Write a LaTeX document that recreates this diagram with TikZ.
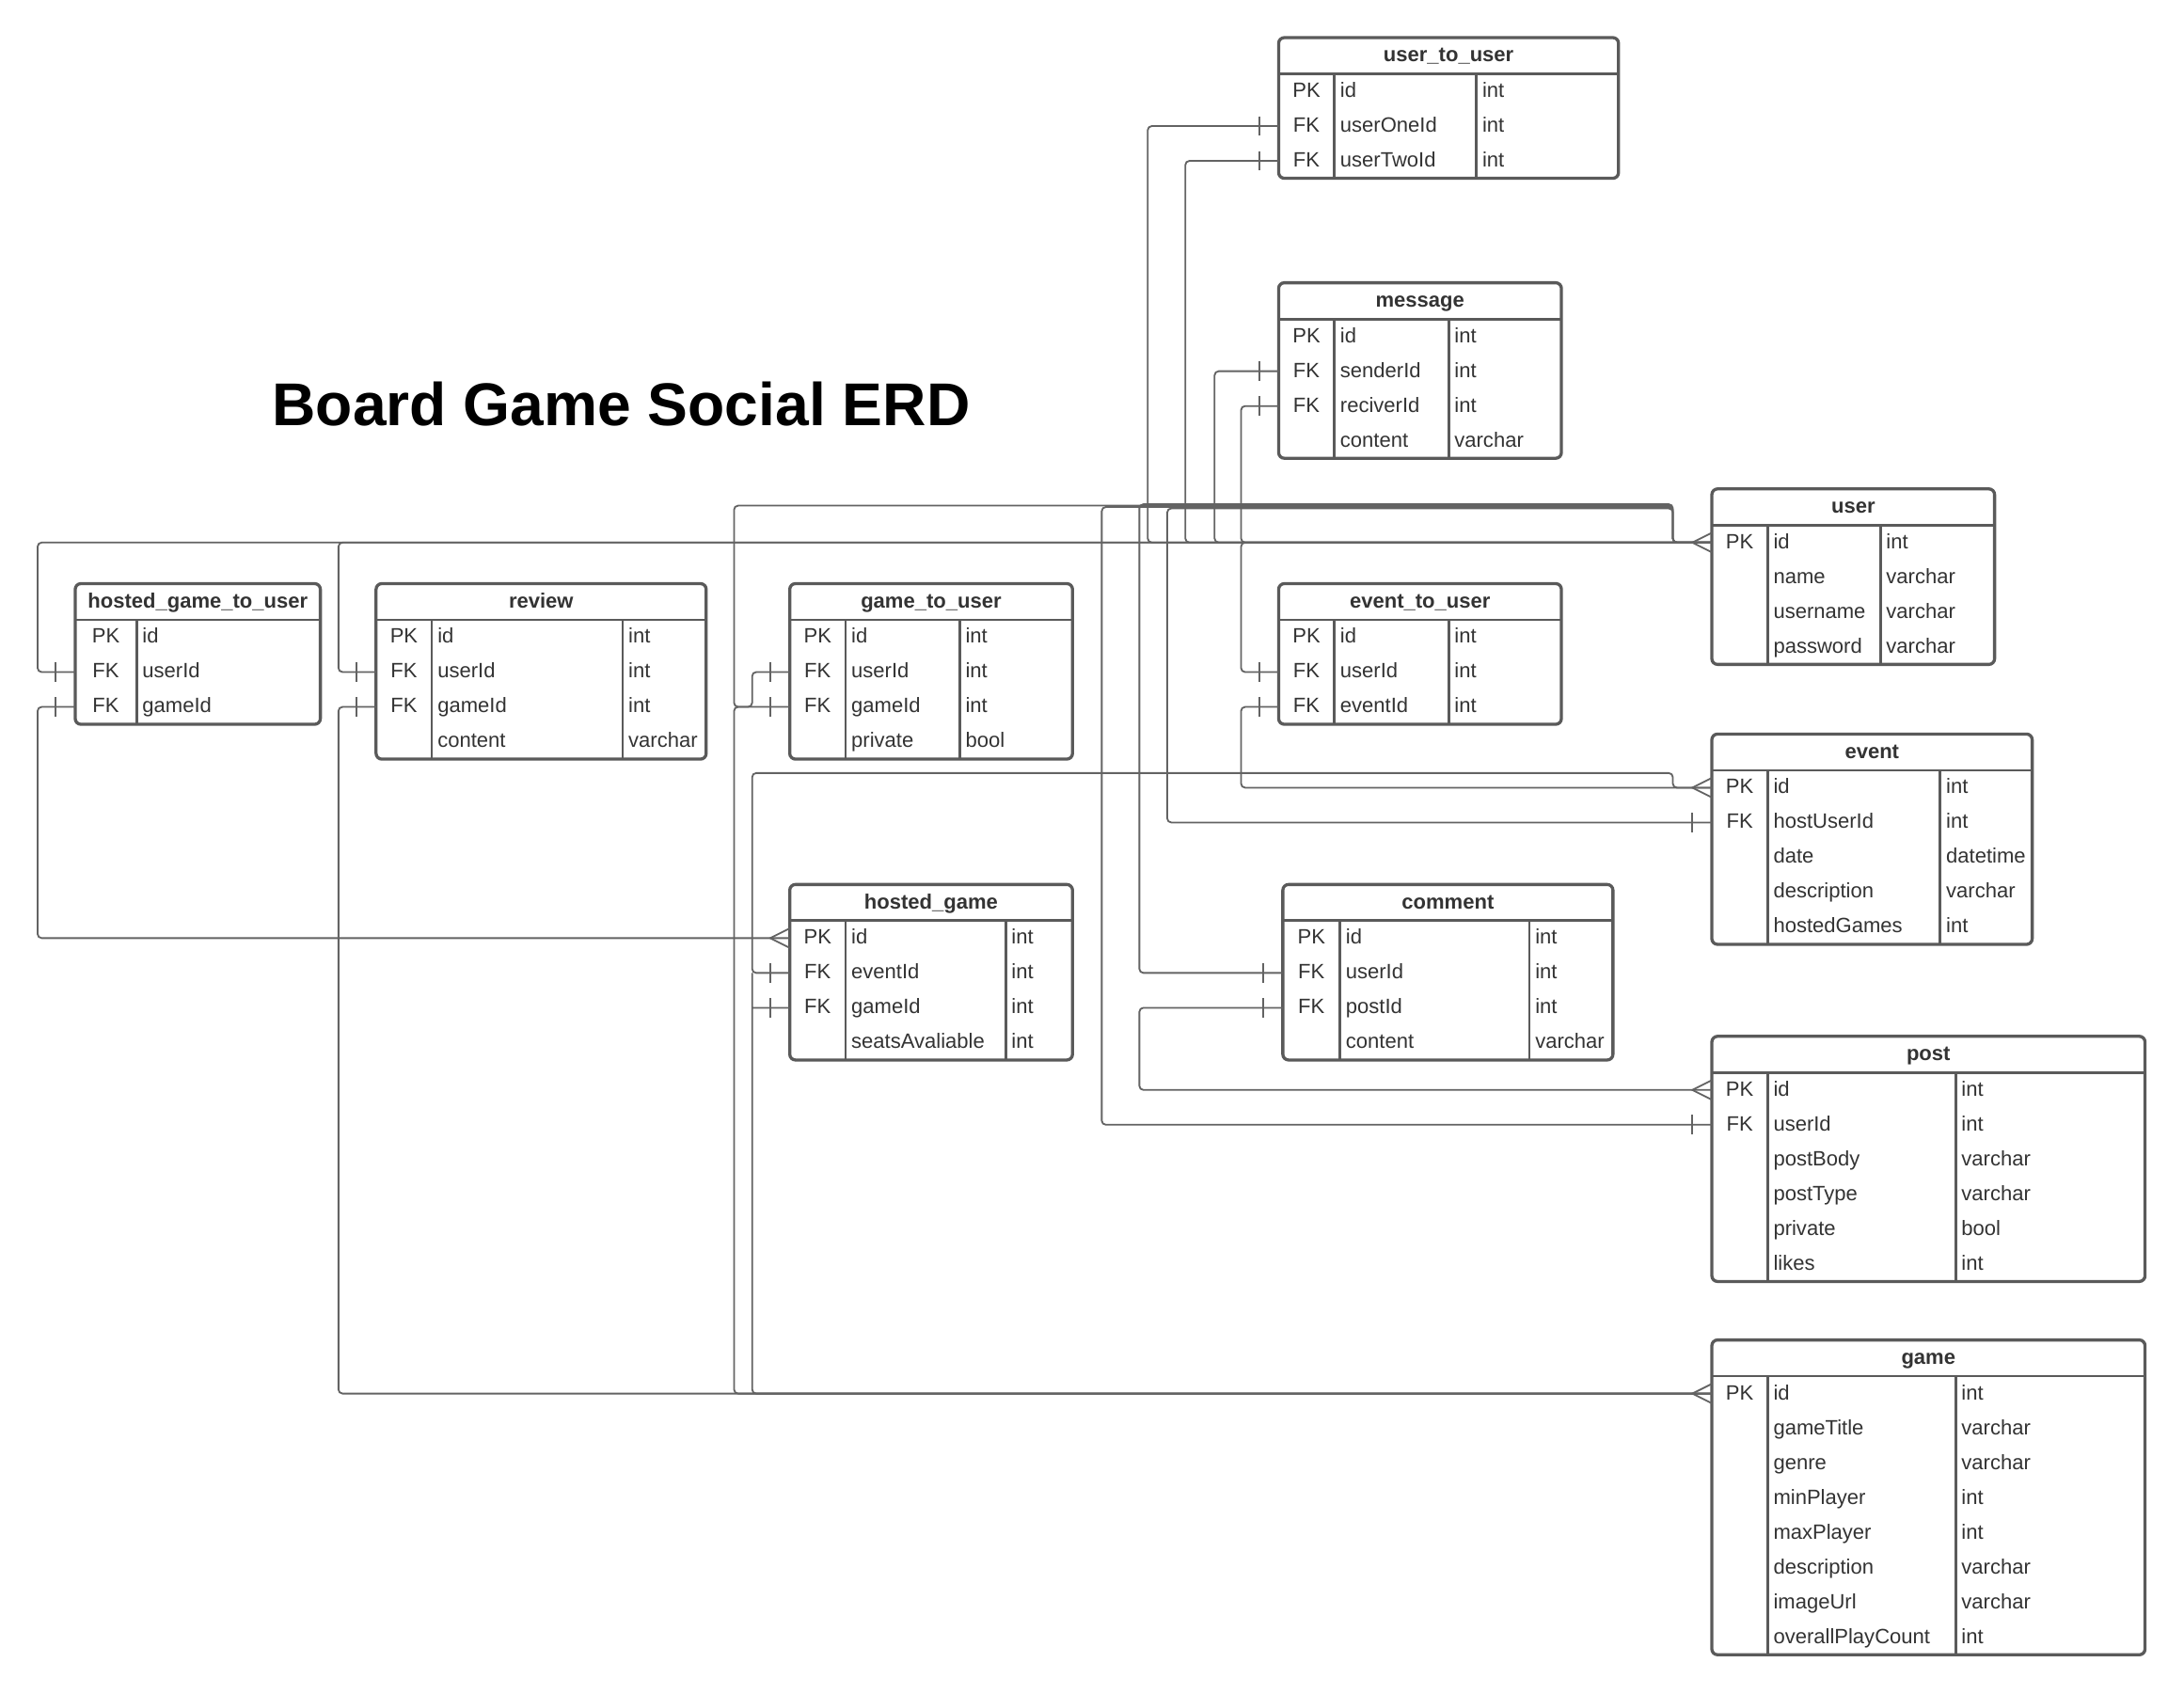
\documentclass[tikz,border=0pt]{standalone}
\usepackage{fontspec}
\setmainfont{Liberation Sans}
\usetikzlibrary{fit}
\definecolor{tblc}{HTML}{5A5A5A}
\definecolor{conc}{HTML}{636363}
\definecolor{txtc}{HTML}{333333}
\tikzset{
  tbl/.style={draw=tblc, line width=1.9pt, rounded corners=3.5pt, inner sep=0pt},
  tline/.style={draw=tblc, line width=1.6pt},
  cell/.style={inner sep=0pt, text=txtc, font=\fontsize{12.7}{15}\selectfont, text height=9.1pt, text depth=0pt},
  hdr/.style={cell, font=\fontsize{12.7}{15}\selectfont\bfseries},
  conn/.style={draw=conc, line width=1.05pt, rounded corners=2.5pt},
  ermark/.style={draw=conc, line width=1.05pt},
}
\newcommand\erdtab[9]{%
  \pgfmathsetmacro\hb{#4+26}%
  \pgfmathsetmacro\bt{\hb+25*#5}%
  \node[tbl, fit={(#2,#4) (#3,\bt)}] (#1) {};
  \draw[tline] (#2,\hb) -- (#3,\hb);
  \draw[tline] (#6,\hb) -- (#6,\bt);
  \ifnum#7>0 \draw[tline] (#7,\hb) -- (#7,\bt);\fi
  \node[hdr] (#1-h) at ({(#2+#3)/2},#4+12) {#8};
  \foreach \kk/\nm/\ty [count=\ii] in {#9}{%
    \pgfmathsetmacro\yy{\hb+25*\ii-12.5}%
    \coordinate (#1-\ii) at (#2,\yy);
    \node[cell] (#1-k\ii) at ({(#2+#6)/2},\yy-1) {\kk};
    \node[cell, anchor=west] (#1-n\ii) at (#6+4,\yy-1) {\nm};
    \ifnum#7>0 \node[cell, anchor=west] (#1-t\ii) at (#7+4,\yy-1) {\ty};\fi
  }%
}
\newcommand\fkbar[1]{\draw[ermark] (#1) ++(-14,-7) -- ++(0,14);}
\newcommand\crowfoot[1]{\draw[ermark] (#1) ++(0,-7) -- ++(-14,7) -- ++(14,7);}
\begin{document}
\begin{tikzpicture}[x=0.03cm, y=-0.03cm]
\path[fill=white, use as bounding box] (0,0) rectangle (1568,1216);

\node[font=\fontsize{37}{44}\selectfont\bfseries, inner sep=0pt] (title) at (446,290) {Board Game Social ERD};

\erdtab{utu}{918}{1162}{27}{3}{958}{1060}{user\_to\_user}{PK/id/int, FK/userOneId/int, FK/userTwoId/int}
\erdtab{msg}{918}{1121}{203}{4}{958}{1040}{message}{PK/id/int, FK/senderId/int, FK/reciverId/int, /content/varchar}
\erdtab{user}{1229}{1432}{351}{4}{1269}{1350}{user}{PK/id/int, /name/varchar, /username/varchar, /password/varchar}
\erdtab{etu}{918}{1121}{419}{3}{958}{1040}{event\_to\_user}{PK/id/int, FK/userId/int, FK/eventId/int}
\erdtab{event}{1229}{1459}{527}{5}{1269}{1393}{event}{PK/id/int, FK/hostUserId/int, /date/datetime, /description/varchar, /hostedGames/int}
\erdtab{cmt}{921}{1158}{635}{4}{962}{1098}{comment}{PK/id/int, FK/userId/int, FK/postId/int, /content/varchar}
\erdtab{post}{1229}{1540}{744}{6}{1269}{1404}{post}{PK/id/int, FK/userId/int, /postBody/varchar, /postType/varchar, /private/bool, /likes/int}
\erdtab{game}{1229}{1540}{962}{8}{1269}{1404}{game}{PK/id/int, /gameTitle/varchar, /genre/varchar, /minPlayer/int, /maxPlayer/int, /description/varchar, /imageUrl/varchar, /overallPlayCount/int}
\erdtab{hgtu}{54}{230}{419}{3}{98}{0}{hosted\_game\_to\_user}{PK/id/, FK/userId/, FK/gameId/}
\erdtab{rev}{270}{507}{419}{4}{310}{447}{review}{PK/id/int, FK/userId/int, FK/gameId/int, /content/varchar}
\erdtab{gtu}{567}{770}{419}{4}{607}{689}{game\_to\_user}{PK/id/int, FK/userId/int, FK/gameId/int, /private/bool}
\erdtab{hg}{567}{770}{635}{4}{607}{722}{hosted\_game}{PK/id/int, FK/eventId/int, FK/gameId/int, /seatsAvaliable/int}

% connectors
\draw[conn] (utu-2) -- ++(-94,0) |- (user-1);
\draw[conn] (utu-3) -- ++(-67,0) |- (user-1);
\draw[conn] (msg-2) -- ++(-46,0) |- (user-1);
\draw[conn] (msg-3) -- ++(-27,0) |- (user-1);
\draw[conn] (etu-2) -- ++(-27,0) |- (user-1);
\draw[conn] (etu-3) -- ++(-27,0) |- (event-1);
\draw[conn] (event-2) -- ++(-391,0) |- (1201,365) |- (user-1);
\draw[conn] (cmt-2) -- ++(-103,0) |- (1201,362) |- (user-1);
\draw[conn] (post-2) -- ++(-438,0) |- (1201,364) |- (user-1);
\draw[conn] (gtu-2) -- ++(-27,0) -- ++(0,25) -- ++(-13,0) |- (1201,363) |- (user-1);
\draw[conn] (hgtu-2) -- ++(-27,0) |- (user-1);
\draw[conn] (rev-2) -- ++(-27,0) |- (user-1);
\draw[conn] (gtu-3) -- ++(-40,0) |- (game-1);
\draw[conn] (rev-3) -- ++(-27,0) |- (game-1);
\draw[conn] (hg-3) -- ++(-27,0) ++(0,-25) |- (game-1);
\draw[conn] (hg-2) -- ++(-27,0) |- (1201,555) |- (event-1);
\draw[conn] (hgtu-3) -- ++(-27,0) |- (hg-1);
\draw[conn] (cmt-3) -- ++(-103,0) |- (post-1);

% end marks
\foreach \p in {utu-2, utu-3, msg-2, msg-3, etu-2, etu-3, event-2, cmt-2, cmt-3, post-2, gtu-2, gtu-3, hgtu-2, hgtu-3, rev-2, rev-3, hg-2, hg-3}{\fkbar{\p}}
\foreach \p in {user-1, event-1, post-1, game-1, hg-1}{\crowfoot{\p}}
\end{tikzpicture}
\end{document}
